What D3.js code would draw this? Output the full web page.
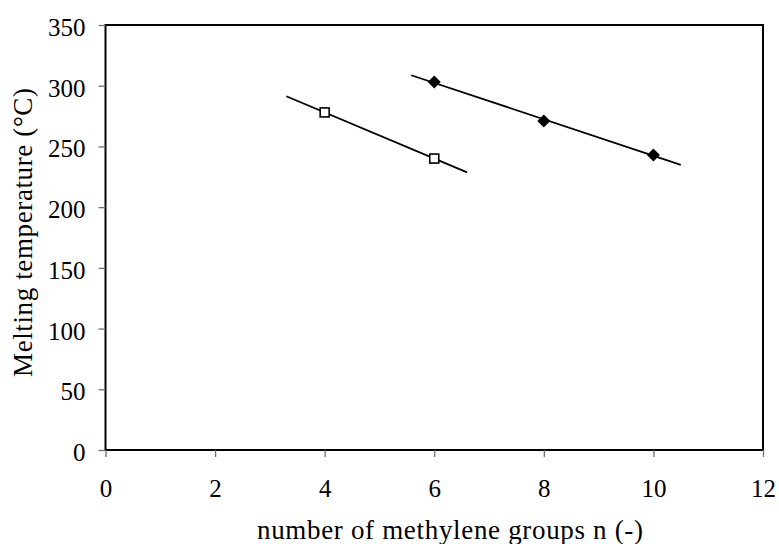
<!DOCTYPE html>
<html>
<head>
<meta charset="utf-8">
<script src="https://cdn.jsdelivr.net/npm/d3@7"></script>
<style>
  body { margin: 0; background: #fff; }
  svg text { font-family: "Liberation Serif", "Times New Roman", serif; fill: #000; }
</style>
</head>
<body>
<svg id="chart"></svg>
<script>
// data: n (methylene groups) vs melting temperature
const openN = [4, 6];
const openTm = [278, 240];
const filledN = [6, 8, 10];
const filledTm = [303, 271, 243];
// x range covered by each trendline
const openTrendRange = [3.3, 6.6];
const filledTrendRange = [5.58, 10.5];
const xTicks = [0, 2, 4, 6, 8, 10, 12];
const yTicks = [0, 50, 100, 150, 200, 250, 300, 350];

const width = 779, height = 544;
const margin = { left: 105.5, right: 16, top: 25, bottom: 94 };

const svg = d3.select("#chart")
    .attr("width", width)
    .attr("height", height);

const x = d3.scaleLinear().domain([0, 12]).range([margin.left, width - margin.right]);
const y = d3.scaleLinear().domain([0, 350]).range([height - margin.bottom, margin.top]);

// plot frame
svg.append("rect")
    .attr("x", x(0))
    .attr("y", y(350))
    .attr("width", x(12) - x(0))
    .attr("height", y(0) - y(350))
    .attr("fill", "none")
    .attr("stroke", "#000")
    .attr("stroke-width", 2);

// axes
const xAxis = svg.append("g")
    .attr("transform", `translate(0,${y(0)})`)
    .call(d3.axisBottom(x).tickValues(xTicks).tickSize(7).tickPadding(22));
const yAxis = svg.append("g")
    .attr("transform", `translate(${x(0)},0)`)
    .call(d3.axisLeft(y).tickValues(yTicks).tickSize(7).tickPadding(13));
[xAxis, yAxis].forEach(a => {
    a.select(".domain").remove();
    a.selectAll(".tick line").attr("stroke", "#707070").attr("stroke-width", 1.3);
    a.selectAll(".tick text")
        .attr("font-size", 25)
        .attr("font-family", "Liberation Serif, serif");
});
yAxis.selectAll(".tick text").attr("dy", "0.42em");

// trendlines from least squares fit
function fit(xs, ys) {
    const mx = d3.mean(xs), my = d3.mean(ys);
    const b = d3.sum(xs, (v, i) => (v - mx) * (ys[i] - my)) / d3.sum(xs, v => (v - mx) ** 2);
    return v => my + b * (v - mx);
}
const line = d3.line().x(d => x(d[0])).y(d => y(d[1]));
[[openN, openTm, openTrendRange], [filledN, filledTm, filledTrendRange]].forEach(([xs, ys, r]) => {
    const f = fit(xs, ys);
    svg.append("path")
        .attr("d", line(r.map(v => [v, f(v)])))
        .attr("fill", "none")
        .attr("stroke", "#000")
        .attr("stroke-width", 1.8);
});

// open squares
const sq = 9;
svg.selectAll("rect.open")
    .data(openN)
    .enter()
    .append("rect")
    .attr("class", "open")
    .attr("x", (d) => x(d) - sq / 2)
    .attr("y", (d, i) => y(openTm[i]) - sq / 2)
    .attr("width", sq)
    .attr("height", sq)
    .attr("fill", "#fff")
    .attr("stroke", "#000")
    .attr("stroke-width", 1.6);

// filled diamonds
const dm = 6.5;
svg.selectAll("path.filled")
    .data(filledN)
    .enter()
    .append("path")
    .attr("class", "filled")
    .attr("d", (d, i) => {
        const cx = x(d), cy = y(filledTm[i]);
        return `M${cx},${cy - dm}L${cx + dm},${cy}L${cx},${cy + dm}L${cx - dm},${cy}Z`;
    })
    .attr("fill", "#000");

// axis titles
svg.append("text")
    .attr("x", 450)
    .attr("y", 539)
    .attr("text-anchor", "middle")
    .attr("font-size", 27)
    .attr("textLength", 386)
    .attr("lengthAdjust", "spacing")
    .text("number of methylene groups n (-)");
svg.append("text")
    .attr("transform", "translate(32,232.5) rotate(-90)")
    .attr("text-anchor", "middle")
    .attr("font-size", 27)
    .attr("textLength", 289)
    .attr("lengthAdjust", "spacing")
    .text("Melting temperature  (°C)");
</script>
</body>
</html>
